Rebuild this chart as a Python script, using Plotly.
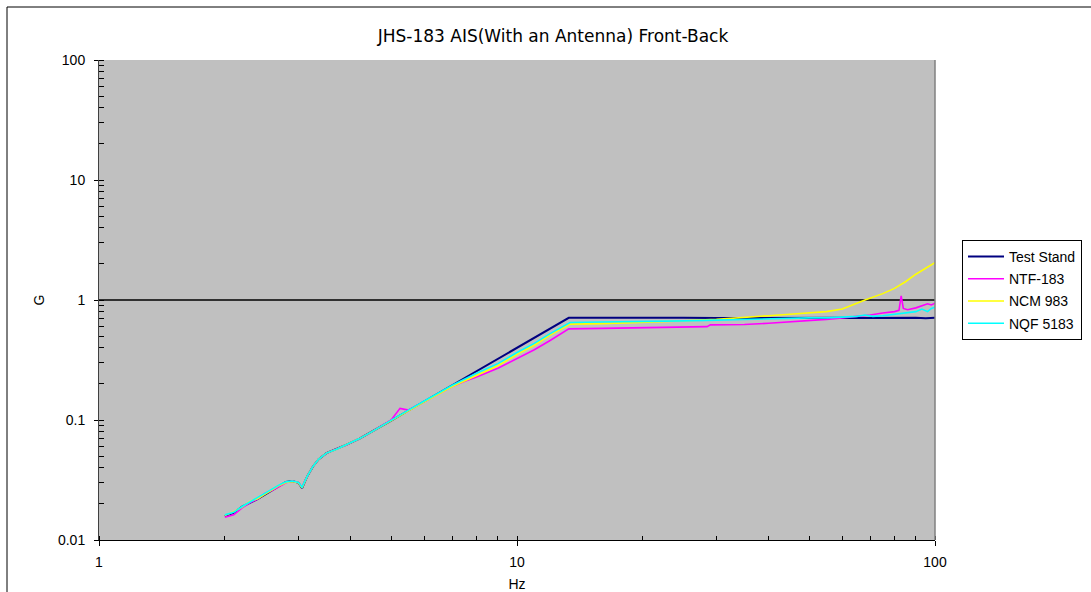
import plotly.graph_objects as go

title_text = "JHS-183 AIS(With an Antenna) Front-Back"
series_names = ["Test Stand", "NTF-183", "NCM 983", "NQF 5183"]
series_colors = ["#000080", "#FF00FF", "#FFFF00", "#00FFFF"]

# Test Stand
ts_hz = [2.0, 2.1, 2.2, 2.3, 2.4, 2.5, 2.6, 2.7, 2.8, 2.9, 3.0, 3.06, 3.15, 3.25, 3.35,
         3.5, 3.7, 3.9, 4.2, 4.5, 5.0, 5.5, 6.0, 7.0, 8.0, 9.0, 10.0, 11.0, 12.0, 13.3,
         14, 16, 18, 20, 25, 30, 35, 40, 45, 50, 55, 60, 65, 70, 75, 80, 85, 90, 95, 100]
ts_g = [0.0158, 0.0168, 0.019, 0.0205, 0.022, 0.024, 0.026, 0.028, 0.0305, 0.031, 0.030, 0.027, 0.034, 0.041, 0.047,
        0.053, 0.057, 0.062, 0.070, 0.080, 0.099, 0.12, 0.143, 0.195, 0.255, 0.32, 0.40, 0.48, 0.58, 0.71,
        0.71, 0.712, 0.708, 0.71, 0.712, 0.708, 0.71, 0.713, 0.708, 0.71, 0.707, 0.712, 0.708, 0.71, 0.705, 0.712, 0.708, 0.71, 0.706, 0.71]

# NTF-183
ntf_hz = [2.0, 2.1, 2.2, 2.3, 2.4, 2.5, 2.6, 2.7, 2.8, 2.9, 3.0, 3.06, 3.15, 3.25, 3.35,
          3.5, 3.7, 3.9, 4.2, 4.5, 5.0, 5.25, 5.5, 6.0, 7.0, 7.5, 8.0, 9.0, 10.0, 11.0, 12.0, 13.3,
          16, 20, 25, 28.5, 29, 35, 40, 45, 50, 55, 60, 65, 70, 75, 80, 82, 83, 84, 86, 90, 94, 96, 98, 100]
ntf_g = [0.0155, 0.0162, 0.0185, 0.0205, 0.022, 0.0245, 0.026, 0.028, 0.030, 0.031, 0.030, 0.0275, 0.034, 0.041, 0.047,
         0.053, 0.057, 0.062, 0.070, 0.080, 0.100, 0.125, 0.121, 0.143, 0.19, 0.21, 0.228, 0.27, 0.325, 0.385, 0.46, 0.575,
         0.58, 0.585, 0.59, 0.60, 0.62, 0.625, 0.64, 0.655, 0.67, 0.69, 0.71, 0.73, 0.75, 0.78, 0.80, 0.82, 1.08, 0.85, 0.83, 0.86, 0.90, 0.93, 0.91, 0.94]

# NCM 983
ncm_hz = [2.0, 2.1, 2.2, 2.3, 2.4, 2.5, 2.6, 2.7, 2.8, 2.9, 3.0, 3.06, 3.15, 3.25, 3.35,
          3.5, 3.7, 3.9, 4.2, 4.5, 5.0, 5.5, 6.0, 7.0, 8.0, 9.0, 10.0, 11.0, 12.0, 13.4,
          16, 20, 25, 30, 35, 40, 45, 50, 55, 60, 63, 68, 75, 80, 85, 90, 95, 100]
ncm_g = [0.016, 0.0172, 0.0188, 0.021, 0.0222, 0.0242, 0.0262, 0.0285, 0.0302, 0.0308, 0.030, 0.0272, 0.034, 0.041, 0.047,
         0.053, 0.057, 0.062, 0.070, 0.080, 0.099, 0.12, 0.142, 0.19, 0.236, 0.283, 0.352, 0.42, 0.51, 0.63,
         0.635, 0.65, 0.67, 0.69, 0.72, 0.74, 0.76, 0.78, 0.80, 0.84, 0.90, 1.0, 1.13, 1.25, 1.42, 1.64, 1.84, 2.05]

# NQF 5183
nqf_hz = [2.0, 2.1, 2.2, 2.3, 2.4, 2.5, 2.6, 2.7, 2.8, 2.9, 3.0, 3.06, 3.15, 3.25, 3.35,
          3.5, 3.7, 3.9, 4.2, 4.5, 5.0, 5.5, 6.0, 7.0, 8.0, 9.0, 10.0, 11.0, 12.0, 13.4,
          16, 20, 25, 30, 35, 40, 45, 50, 55, 60, 65, 68, 71, 75, 80, 85, 90, 93, 96, 98, 100]
nqf_g = [0.0162, 0.017, 0.019, 0.0208, 0.0225, 0.0245, 0.0265, 0.0288, 0.0305, 0.031, 0.0302, 0.0275, 0.034, 0.041, 0.047,
         0.053, 0.057, 0.062, 0.070, 0.080, 0.100, 0.121, 0.144, 0.195, 0.245, 0.295, 0.365, 0.435, 0.525, 0.65,
         0.655, 0.66, 0.67, 0.68, 0.69, 0.70, 0.70, 0.71, 0.71, 0.72, 0.73, 0.75, 0.73, 0.74, 0.76, 0.78, 0.80, 0.84, 0.80, 0.85, 0.87]

ref_hz = [1, 100]
ref_g = [1, 1]

xs = [ts_hz, ntf_hz, ncm_hz, nqf_hz]
ys = [ts_g, ntf_g, ncm_g, nqf_g]
widths = [2, 1.6, 1.6, 1.6]

fig = go.Figure()
fig.add_trace(go.Scatter(x=ref_hz, y=ref_g, mode="lines", line=dict(color="black", width=1.3),
                         showlegend=False, hoverinfo="skip"))
for name, color, x, y, w in zip(series_names, series_colors, xs, ys, widths):
    fig.add_trace(go.Scatter(x=x, y=y, mode="lines", name=name, legendgroup=name,
                             line=dict(color=color, width=w)))

W, H = 1091, 592
L, R, T, B = 99, 935, 60, 540
def px(xp):
    return (xp - L) / (R - L)
def py(yp):
    return (B - yp) / (B - T)

font = "Liberation Sans, Arial, sans-serif"
fig.update_layout(
    width=W, height=H,
    margin=dict(l=L, r=W - R, t=T, b=H - B, pad=0, autoexpand=False),
    paper_bgcolor="white", plot_bgcolor="#C0C0C0",
    font=dict(family=font, size=14, color="black"),
    title=dict(text=title_text, x=553 / W, xref="container", xanchor="center", y=1 - 36 / H,
               yref="container", yanchor="middle",
               font=dict(size=17, color="black", family="DejaVu Sans, sans-serif")),
    legend=dict(x=px(962), y=py(240), xanchor="left", yanchor="top", bgcolor="white",
                bordercolor="black", borderwidth=1, font=dict(size=14, color="black"),
                tracegroupgap=1, itemwidth=36),
    xaxis=dict(type="log", range=[0, 2], dtick=1, showgrid=False, zeroline=False, automargin=False,
               showline=True, linecolor="black", linewidth=1,
               ticks="outside", ticklen=5, tickcolor="black", tickfont=dict(size=14),
               ticklabelstandoff=4,
               minor=dict(ticks="inside", ticklen=4, dtick="D1", tickcolor="black", showgrid=False),
               title=dict(text="Hz", font=dict(size=14), standoff=14)),
    yaxis=dict(type="log", range=[-2, 2], dtick=1, showgrid=False, zeroline=False, automargin=False,
               showline=True, linecolor="#404040", linewidth=1,
               ticks="outside", ticklen=4, tickcolor="black", tickfont=dict(size=14),
               ticklabelstandoff=6,
               minor=dict(ticks="inside", ticklen=5, dtick="D1", tickcolor="black", showgrid=False),
               title=dict(text="G", font=dict(size=14), standoff=10)),
    shapes=[
        dict(type="rect", xref="paper", yref="paper", x0=px(7), x1=px(1100), y0=py(7), y1=py(600),
             line=dict(color="black", width=1), fillcolor="rgba(0,0,0,0)", layer="below"),
        dict(type="line", xref="paper", yref="paper", x0=1, x1=1, y0=0, y1=1,
             line=dict(color="#808080", width=1.5)),
    ],
)

fig.write_html("out.html")
